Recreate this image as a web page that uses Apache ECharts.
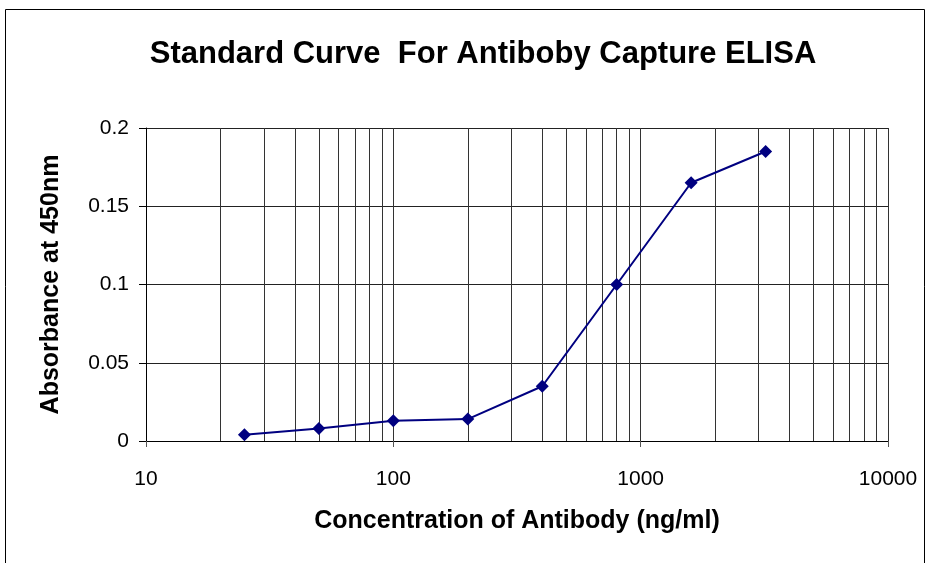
<!DOCTYPE html>
<html>
<head>
<meta charset="utf-8">
<script src="https://cdn.jsdelivr.net/npm/echarts@6/dist/echarts.min.js"></script>
<style>
	html, body { margin: 0; padding: 0; background: #fff; }
	#chart { width: 931px; height: 563px; }
</style>
</head>
<body>
<div id="chart"></div>
<script>
	// data
	var concentrations = [25, 50, 100, 200, 400, 800, 1600, 3200];
	var absorbance = [0.004, 0.008, 0.013, 0.014, 0.035, 0.1, 0.165, 0.185];
	// minor gridlines of the log axis (2..9 in each decade)
	var minorGrid = [20, 30, 40, 50, 60, 70, 80, 90,
		200, 300, 400, 500, 600, 700, 800, 900,
		2000, 3000, 4000, 5000, 6000, 7000, 8000, 9000];

	var chart = echarts.init(document.getElementById('chart'));

	var points = [];
	for (var i = 0; i < concentrations.length; i++) {
		points.push([concentrations[i], absorbance[i]]);
	}
	var minorLines = [];
	for (var j = 0; j < minorGrid.length; j++) {
		minorLines.push({ xAxis: minorGrid[j] });
	}

	var font = 'Liberation Sans, Arial, sans-serif';

	var option = {
		animation: false,
		backgroundColor: '#fff',
		graphic: [{
			type: 'rect',
			shape: { x: 5.5, y: 9.5, width: 919, height: 600 },
			style: { fill: 'none', stroke: '#000', lineWidth: 1 }
		}],
		title: {
			text: 'Standard Curve  For Antiboby Capture ELISA',
			left: 478,
			top: 34,
			textAlign: 'center',
			textStyle: { fontFamily: font, fontSize: 31, fontWeight: 'bold', color: '#000' }
		},
		grid: { left: 146, right: 43, top: 128, bottom: 122 },
		xAxis: {
			type: 'log',
			logBase: 10,
			min: 10,
			max: 10000,
			name: 'Concentration of Antibody (ng/ml)',
			nameLocation: 'middle',
			nameGap: 68,
			nameTextStyle: { fontFamily: font, fontSize: 25, fontWeight: 'bold', color: '#000' },
			axisLine: { lineStyle: { color: '#000', width: 1 } },
			axisTick: { show: true, length: 6, lineStyle: { color: '#555' } },
			axisLabel: {
				fontFamily: font, fontSize: 21, color: '#000', margin: 28,
				formatter: function (v) { return String(Math.round(v)); }
			},
			splitLine: { show: true, lineStyle: { color: '#333', width: 1 } },
			minorTick: { show: false },
			minorSplitLine: { show: false }
		},
		yAxis: {
			type: 'value',
			min: 0,
			max: 0.2,
			interval: 0.05,
			name: 'Absorbance at 450nm',
			nameLocation: 'middle',
			nameGap: 82,
			nameTextStyle: { fontFamily: font, fontSize: 25, fontWeight: 'bold', color: '#000' },
			axisLine: { show: true, lineStyle: { color: '#000', width: 1 } },
			axisTick: { show: true, length: 7, lineStyle: { color: '#000' } },
			axisLabel: { fontFamily: font, fontSize: 21, color: '#000', margin: 17 },
			splitLine: { show: true, lineStyle: { color: '#222', width: 1 } }
		},
		series: [{
			type: 'line',
			data: points,
			symbol: 'diamond',
			symbolSize: 13,
			lineStyle: { color: '#000080', width: 2 },
			itemStyle: { color: '#000080' },
			markLine: {
				silent: true,
				symbol: 'none',
				label: { show: false },
				lineStyle: { color: '#333', width: 1, type: 'solid' },
				data: minorLines,
				z: 1
			},
			z: 5
		}]
	};

	chart.setOption(option);
</script>
</body>
</html>
